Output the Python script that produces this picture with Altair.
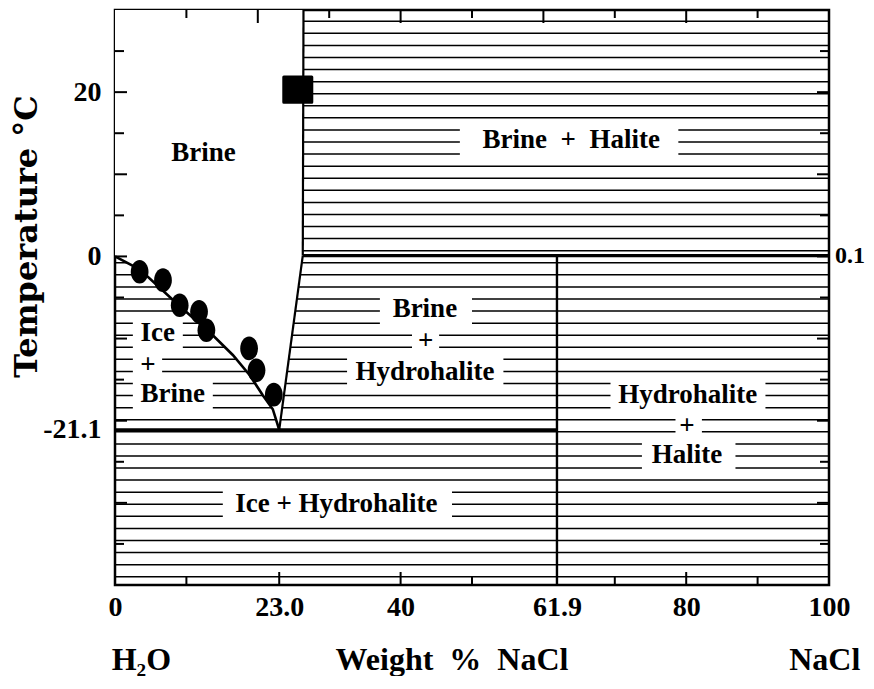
import altair as alt
import pandas as pd
import numpy as np

# ---------------- data ----------------
# ice liquidus (Ice + Brine / Brine boundary)
ice_x = [0, 3.5, 9.0, 13.7, 16.5, 18.9, 20.7, 22.1, 23.0]
ice_t = [0, -1.6, -6.0, -9.6, -12.0, -14.5, -16.9, -18.6, -21.1]
# hydrohalite liquidus and halite liquidus
hh_x = [23.0, 26.3]
hh_t = [-21.1, 0.1]
hal_x = [26.3, 26.4]
hal_t = [0.1, 30]
# invariant lines
eut_x = [0, 61.9]
eut_t = [-21.1, -21.1]
per_x = [26.3, 100]
per_t = [0.1, 0.1]
hyd_x = [61.9, 61.9]
hyd_t = [-40, 0.1]

# measured points (circles) and square
pt_x = [3.45, 6.72, 9.06, 11.77, 12.8, 18.78, 19.82, 22.24]
pt_t = [-1.87, -2.89, -5.94, -6.74, -8.99, -11.2, -13.87, -16.83]
sq_x = [25.6]
sq_t = [20.3]

# axis labels
x_label_vals = [0, 23, 40, 61.9, 80, 100]
y_label_vals = [-21.1, 0, 20]

# field labels
NB = "\u00a0"
lab_text = ["Brine", f"Brine{NB}{NB}+{NB}{NB}Halite", "Brine", "+", "Hydrohalite",
            "Ice", "+", "Brine", "Ice + Hydrohalite", "Hydrohalite", "+", "Halite"]
lab_x = [12.4, 63.9, 43.4, 43.5, 43.4, 6.0, 4.6, 8.1, 31.0, 80.2, 80.1, 80.1]
lab_t = [12.6, 14.2, -6.4, -10.3, -14.1, -9.3, -13.2, -16.8, -30.1, -16.9, -20.6, -24.2]

# white gaps in the hatching behind labels
box_x1 = [48.3, 37.1, 41.6, 32.5, 2.5, 2.5, 2.5, 15.1, 69.4, 78.5, 73.8]
box_x2 = [78.9, 50.0, 45.4, 54.4, 9.5, 6.6, 13.7, 47.2, 91.1, 82.2, 86.9]
box_t1 = [11.6, -4.4, -8.8, -11.8, -7.4, -11.7, -14.6, -27.9, -14.9, -19.1, -22.0]
box_t2 = [16.3, -8.8, -11.8, -16.2, -11.7, -14.6, -18.9, -32.3, -19.1, -22.0, -26.4]

# bottom composition labels
bot_text = ["H₂O", f"Weight{NB}{NB}%{NB}{NB}NaCl", "NaCl"]
bot_x = [3.7, 47.2, 99.4]

# ---------------- styling helpers ----------------
FONT = "Liberation Serif"
W, H = 714, 575
XMIN, XMAX = 0, 100
TMIN, TMAX = -40, 30
px_x = (XMAX - XMIN) / W
px_t = (TMAX - TMIN) / H

xs = alt.Scale(domain=[XMIN, XMAX], nice=False, zero=False)
ys = alt.Scale(domain=[TMIN, TMAX], nice=False, zero=False)

x_axis = alt.Axis(values=x_label_vals,
                  labelExpr="datum.value == 23 ? '23.0' : (datum.value == 61.9 ? '61.9' : datum.label)",
                  title=None, grid=False, domain=False, ticks=False,
                  labelFont=FONT, labelFontWeight="bold", labelFontSize=28,
                  labelColor="black", labelPadding=8, labelFlush=False, labelOverlap=False)
y_axis = alt.Axis(values=y_label_vals,
                  labelExpr="datum.value == 20 ? '20' : (datum.value == 0 ? '0' : '-21.1')",
                  title="Temperature °C", grid=False, domain=False, ticks=False,
                  labelFont=FONT, labelFontWeight="bold", labelFontSize=28,
                  labelColor="black", labelPadding=14, labelFlush=False, labelOverlap=False,
                  titleFont="DejaVu Serif", titleFontWeight="bold", titleFontSize=32,
                  titleColor="black",
                  titleAngle=270, titleX=-89, titleY=226, titleAlign="center",
                  titleBaseline="middle")


def X(f):
    return alt.X(f, type="quantitative", scale=xs, axis=x_axis)


def Y(f):
    return alt.Y(f, type="quantitative", scale=ys, axis=y_axis)


# hatching (decoration)
hatch_t = np.round(np.arange(0.7 - 1.47 * 27, TMAX, 1.47), 2)
hatch = pd.DataFrame({"x": XMIN, "x2": XMAX, "t": hatch_t})
hatch_layer = alt.Chart(hatch).mark_rule(color="black", strokeWidth=1.5).encode(
    x=X("x"), x2="x2", y=Y("t"))

# white brine field
brine_df = pd.DataFrame({"x": ice_x + hal_x, "t": ice_t + hal_t})
brine_df["top"] = TMAX
brine_layer = alt.Chart(brine_df).mark_area(color="white", opacity=1).encode(
    x=X("x"), y=Y("t"), y2="top")

# white boxes behind labels
box_df = pd.DataFrame({"x": box_x1, "x2": box_x2, "t": box_t1, "t2": box_t2})
box_layer = alt.Chart(box_df).mark_rect(color="white", opacity=1).encode(
    x=X("x"), x2="x2", y=Y("t"), y2="t2")


def line_layer(xv, tv, width):
    d = pd.DataFrame({"x": xv, "t": tv, "o": list(range(len(xv)))})
    return alt.Chart(d).mark_line(color="black", strokeWidth=width, strokeCap="butt").encode(
        x=X("x"), y=Y("t"), order="o:Q")


lines = [
    line_layer(ice_x, ice_t, 2.6),
    line_layer(hh_x, hh_t, 2.2),
    line_layer(hal_x, hal_t, 2.2),
    line_layer(eut_x, eut_t, 3.2),
    line_layer(per_x, per_t, 3.2),
    line_layer(hyd_x, hyd_t, 2.4),
]

# inward ticks (decoration)
rows = []
for v in [10, 23, 40, 50, 70, 80, 90]:
    L = 13 if v in (23, 40, 80) else 8
    rows.append((v, v, TMIN, TMIN + L * px_t))
for v in range(10, 100, 10):
    L = 13 if v in (20, 40, 60, 80) else 8
    rows.append((v, v, TMAX, TMAX - L * px_t))
for t in range(-35, 30, 5):
    L = 12 if t % 10 == 0 else 9
    rows.append((XMIN, XMIN + L * px_x, t, t))
    rows.append((XMAX - L * px_x, XMAX, t, t))
tick_df = pd.DataFrame(rows, columns=["x", "x2", "t", "t2"])
tick_layer = alt.Chart(tick_df).mark_rule(color="black", strokeWidth=2).encode(
    x=X("x"), x2="x2", y=Y("t"), y2="t2")

# data points
pts = pd.DataFrame({"x": pt_x, "t": pt_t})
pt_layer = alt.Chart(pts).mark_point(
    shape="M0,-1A0.75,1,0,1,1,0,1A0.75,1,0,1,1,0,-1Z",
    filled=True, size=560, color="black", opacity=1).encode(x=X("x"), y=Y("t"))
sq = pd.DataFrame({"x": sq_x, "t": sq_t})
sq_layer = alt.Chart(sq).mark_point(
    shape="M-1,-0.9L1,-0.9L1,0.9L-1,0.9Z", filled=True, size=784, color="black",
    stroke="black", strokeWidth=3, strokeJoin="round", opacity=1).encode(x=X("x"), y=Y("t"))

# field labels
lab_df = pd.DataFrame({"x": lab_x, "t": lab_t, "txt": lab_text})
lab_layer = alt.Chart(lab_df).mark_text(
    font=FONT, fontWeight="bold", fontSize=27, color="black",
    align="center", baseline="middle").encode(x=X("x"), y=Y("t"), text="txt:N")

# right label 0.1
r_df = pd.DataFrame({"x": [XMAX], "t": [0.1], "txt": ["0.1"]})
r_layer = alt.Chart(r_df).mark_text(
    font=FONT, fontWeight="bold", fontSize=24, color="black",
    align="left", baseline="middle", dx=6).encode(x=X("x"), y=Y("t"), text="txt:N")

# bottom composition labels
b_df = pd.DataFrame({"x": bot_x, "t": [TMIN] * 3, "txt": bot_text})
b_layer = alt.Chart(b_df).mark_text(
    font=FONT, fontWeight="bold", fontSize=32, color="black",
    align="center", baseline="middle", dy=75).encode(x=X("x"), y=Y("t"), text="txt:N")

chart = alt.layer(
    hatch_layer, brine_layer, box_layer, *lines, tick_layer, pt_layer, sq_layer,
    lab_layer, r_layer, b_layer
).properties(
    width=W, height=H,
    autosize=alt.AutoSizeParams(type="none"),
    padding={"left": 107, "top": 2, "right": 37, "bottom": 91},
    background="white",
).configure_view(stroke="black", strokeWidth=2.5)

chart.save("out.html", embed_options={"renderer": "svg", "actions": False})
